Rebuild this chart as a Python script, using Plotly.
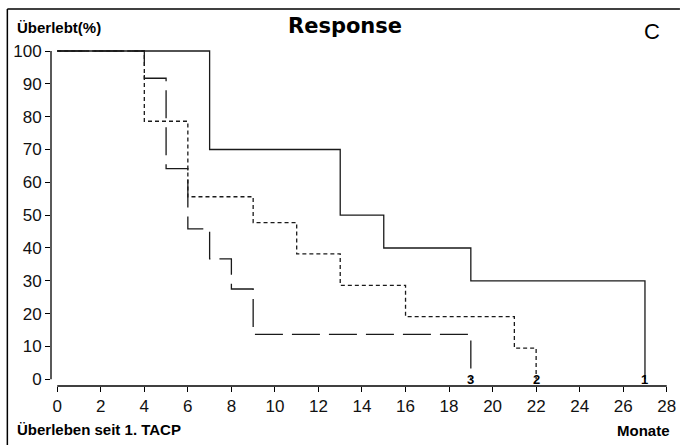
import plotly.graph_objects as go

# ---- data (Kaplan-Meier step curves) ----
months_1 = [0, 7, 13, 15, 19, 27]
surv_1 = [100, 70, 50, 40, 30, 0]

months_2 = [0, 4, 6, 9, 11, 13, 16, 21, 22]
surv_2 = [100, 78.6, 55.6, 47.7, 38.2, 28.6, 19.1, 9.5, 0]

months_3 = [0, 4, 5, 6, 7, 8, 9, 19]
surv_3 = [100, 91.7, 64.2, 45.8, 36.7, 27.5, 13.7, 0]

curve_labels = ["1", "2", "3"]
x_ticks = list(range(0, 29, 2))
y_ticks = list(range(0, 101, 10))

# ---- layout geometry (pixels) ----
W, H = 683, 445
ML, MR, MT, MB = 51, 7, 48, 59
PW, PH = W - ML - MR, H - MT - MB
X0PX, X28PX = 57.3, 671.7
Y0PX, Y100PX = 379.3, 51.0
xs = (X28PX - X0PX) / 28.0
ys = (Y0PX - Y100PX) / 100.0
x_range = [-(X0PX - ML) / xs, 28 + (ML + PW - X28PX) / xs]
y_range = [-(MT + PH - Y0PX) / ys, 100 + (Y100PX - MT) / ys]


def px_x(p):
    return (p - ML) / PW


def px_y(p):
    return (H - MB - p) / PH


LINE_COL = "#1a1a1a"
TICK_FONT = dict(family="Liberation Sans Narrow, Liberation Sans, Arial, sans-serif",
                 size=17, color="#111")
BOLD_FONT = "Liberation Sans, Arial, sans-serif"

fig = go.Figure()
series = [
    (months_1, surv_1, "solid"),
    (months_2, surv_2, "4px,3px"),
    (months_3, surv_3, "28px,9px"),
]
for (mx, sv, dash), lab in zip(series, curve_labels):
    fig.add_trace(go.Scatter(
        x=mx, y=sv, mode="lines", line_shape="hv",
        line=dict(color=LINE_COL, width=1.3, dash=dash),
        showlegend=False, hoverinfo="skip", name=lab,
        cliponaxis=False,
    ))

# curve numbers at the end of each curve
for (mx, sv, dash), lab in zip(series, curve_labels):
    fig.add_annotation(x=mx[-1], y=0, text="<b>%s</b>" % lab, showarrow=False,
                       xanchor="center", yanchor="middle",
                       font=dict(family=BOLD_FONT, size=13, color="#000"))

shapes = [
    # y-axis line spanning 0..100
    dict(type="line", xref="paper", yref="y", x0=px_x(51), x1=px_x(51), y0=0, y1=100,
         line=dict(color="#000", width=1.3)),
    # x-axis line spanning 0..28
    dict(type="line", xref="x", yref="paper", x0=0, x1=28, y0=px_y(386), y1=px_y(386),
         line=dict(color="#000", width=1.3)),
    # frame: top and left border
    dict(type="line", xref="paper", yref="paper", x0=px_x(7), x1=px_x(W + 2), y0=px_y(9), y1=px_y(9),
         line=dict(color="#000", width=1.5)),
    dict(type="line", xref="paper", yref="paper", x0=px_x(7), x1=px_x(7), y0=px_y(9), y1=px_y(H + 2),
         line=dict(color="#000", width=1.5)),
]

texts = [
    ("<b>Response</b>", 347, 26, "center", dict(family="DejaVu Sans, Verdana, sans-serif", size=21, color="#000")),
    ("<b>Überlebt(%)</b>", 15, 28, "left", dict(family=BOLD_FONT, size=15, color="#000")),
    ("<b>Überleben seit 1. TACP</b>", 15, 429, "left", dict(family=BOLD_FONT, size=15, color="#000")),
    ("<b>Monate</b>", 677, 431, "right", dict(family=BOLD_FONT, size=15, color="#000")),
    ("C", 657, 32, "center", dict(family="Liberation Sans, Arial, sans-serif", size=22, color="#000")),
]
for txt, xp, yp, anc, fnt in texts:
    fig.add_annotation(xref="paper", yref="paper", x=px_x(xp), y=px_y(yp), text=txt,
                       showarrow=False, xanchor=anc, yanchor="middle", font=fnt)

fig.update_layout(
    width=W, height=H,
    margin=dict(l=ML, r=MR, t=MT, b=MB, pad=0),
    paper_bgcolor="white", plot_bgcolor="white",
    shapes=shapes,
    hovermode=False,
    xaxis=dict(range=x_range, tickvals=x_ticks, ticktext=[str(v) for v in x_ticks],
               showgrid=False, zeroline=False, showline=False,
               ticks="outside", ticklen=5, tickwidth=1.3, tickcolor="#000",
               tickfont=TICK_FONT, fixedrange=True),
    yaxis=dict(range=y_range, tickvals=y_ticks, ticktext=[str(v) for v in y_ticks],
               showgrid=False, zeroline=False, showline=False,
               ticks="outside", ticklen=5, tickwidth=1.3, tickcolor="#000",
               tickfont=TICK_FONT, fixedrange=True),
)

fig.write_html("out.html", config={"displayModeBar": False},
               post_script="document.body.style.margin='0';document.body.style.overflow='hidden';")
